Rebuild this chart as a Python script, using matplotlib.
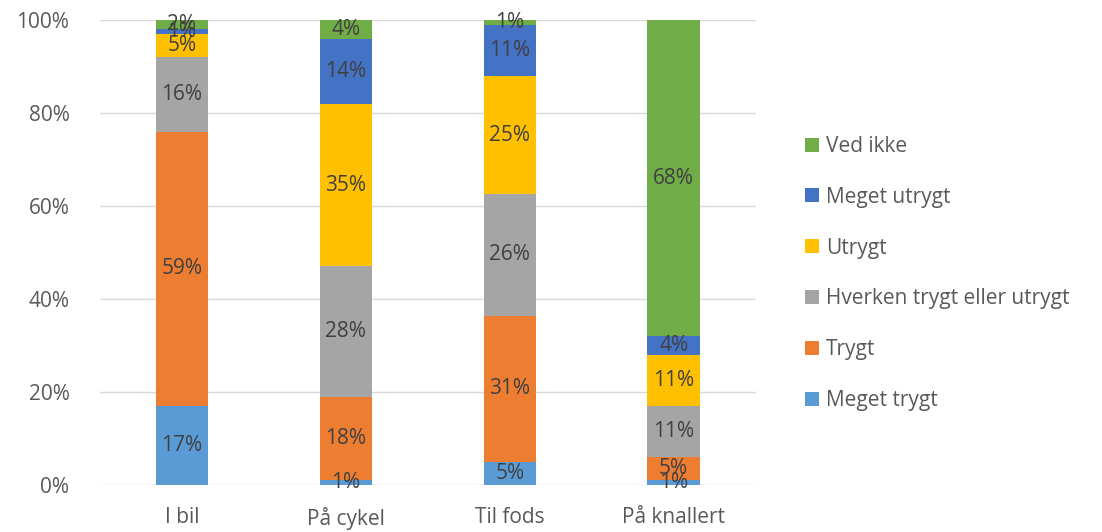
import numpy as np
import matplotlib.pyplot as plt

categories = ['I bil', 'På cykel', 'Til fods', 'På knallert']
series = ['Meget trygt', 'Trygt', 'Hverken trygt eller utrygt', 'Utrygt', 'Meget utrygt', 'Ved ikke']
meget_trygt = [17, 1, 5, 1]
trygt = [59, 18, 31, 5]
hverken = [16, 28, 26, 11]
utrygt = [5, 35, 25, 11]
meget_utrygt = [1, 14, 11, 4]
ved_ikke = [2, 4, 1, 68]
colors = ['#5B9BD5', '#ED7D31', '#A5A5A5', '#FFC000', '#4472C4', '#70AD47']

plt.rcParams['font.family'] = ['Open Sans', 'DejaVu Sans']

values = np.array([meget_trygt, trygt, hverken, utrygt, meget_utrygt, ved_ikke], dtype=float)
shares = values / values.sum(axis=0) * 100

fig = plt.figure(figsize=(11.02, 5.32), dpi=100)
ax = fig.add_axes([0.0907, 0.0883, 0.595, 0.874])
x = np.arange(len(categories))
bottom = np.zeros(len(categories))
handles = []
for name, col, sh, v in zip(series, colors, shares, values):
    b = ax.bar(x, sh, 0.32, bottom=bottom, color=col, label=name, zorder=2)
    handles.append(b)
    for xi, bi, si, vi in zip(x, bottom, sh, v):
        ax.text(xi, bi + si / 2, f'{int(vi)}%', ha='center', va='center',
                fontsize=15, color='#404040', zorder=3)
    bottom += sh

ax.set_xlim(-0.5, 3.5)
ax.set_ylim(0, 100)
ax.set_yticks(range(0, 101, 20))
ax.set_yticklabels([f'{t}%' for t in range(0, 101, 20)])
ax.set_xticks(x)
ax.set_xticklabels(categories)
ax.tick_params(length=0, labelsize=15, colors='#595959')
ax.tick_params(axis='x', pad=16)
ax.tick_params(axis='y', pad=22)
ax.grid(axis='y', color='#D9D9D9', linewidth=1, zorder=0)
for s in ax.spines.values():
    s.set_visible(False)

fig.legend(handles[::-1], series[::-1], loc='center left', bbox_to_anchor=(0.7135, 0.486),
           frameon=False, fontsize=15, labelcolor='#595959', labelspacing=1.43,
           handlelength=0.65, handleheight=0.65, handletextpad=0.35)

fig.savefig('out.png', dpi=100)
